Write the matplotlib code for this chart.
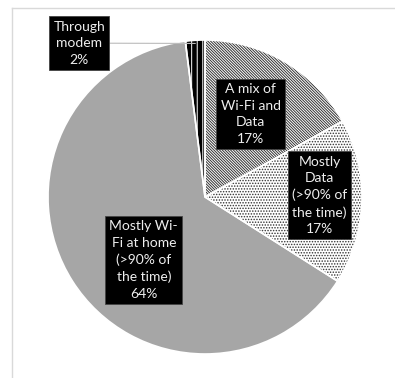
import matplotlib.pyplot as plt
import numpy as np

labels = ["A mix of\nWi-Fi and\nData", "Mostly\nData\n(>90% of\nthe time)",
          "Mostly Wi-\nFi at home\n(>90% of\nthe time)", "Through\nmodem"]
shares = [17, 17, 64, 2]
face_colors = ["white", "white", "#a6a6a6", "black"]
hatch_colors = ["#333333", "#333333", "#a6a6a6", "white"]
hatches = ["\\" * 12, "." * 6, None, "|||"]
# where each label box sits (pie radius = 1)
label_pos = [(0.29, 0.53), (0.73, 0.01), (-0.39, -0.40), (-0.80, 0.98)]

plt.rcParams['font.family'] = ['Lato', 'DejaVu Sans']
plt.rcParams['hatch.linewidth'] = 0.7

fig = plt.figure(figsize=(3.95, 3.78), dpi=100)
ax = fig.add_axes([48 / 395, 24 / 378, 314 / 395, 314 / 378])

# first pass: fills and hatching
wedges, _ = ax.pie(shares, startangle=90, counterclock=False, colors=face_colors,
                   wedgeprops=dict(linewidth=0))
for w, h, hc in zip(wedges, hatches, hatch_colors):
    if h:
        w.set_hatch(h)
        w.set_edgecolor(hc)

# second pass: white slice borders
ax.pie(shares, startangle=90, counterclock=False,
       wedgeprops=dict(facecolor="none", edgecolor="white", linewidth=1.2))

ax.set_xlim(-1, 1)
ax.set_ylim(-1, 1)
ax.set_aspect('equal')

box = dict(boxstyle="square,pad=0.3", facecolor="black", edgecolor="#444444", linewidth=0.6)
for i, (lab, s, pos) in enumerate(zip(labels, shares, label_pos)):
    txt = f"{lab}\n{s}%"
    if i == 3:
        w = wedges[i]
        ang = np.deg2rad((w.theta1 + w.theta2) / 2)
        ax.annotate(txt, xy=(np.cos(ang) * 0.98, np.sin(ang) * 0.98), xytext=pos,
                    ha="center", va="center", color="#eeeeee", fontsize=10,
                    linespacing=1.45, bbox=box,
                    arrowprops=dict(arrowstyle="-", color="#bbbbbb", lw=0.8,
                                    shrinkA=0, shrinkB=0))
    else:
        ax.text(pos[0], pos[1], txt, ha="center", va="center", color="#eeeeee",
                fontsize=10, linespacing=1.45, bbox=box)

# faint frame around the chart area (top and left edges visible)
fig.add_artist(plt.Line2D([12 / 395, 1], [1 - 8 / 378, 1 - 8 / 378],
                          transform=fig.transFigure, color="#d9d9d9", lw=1))
fig.add_artist(plt.Line2D([12 / 395, 12 / 395], [0, 1 - 8 / 378],
                          transform=fig.transFigure, color="#d9d9d9", lw=1))

fig.savefig("out.png", dpi=100)
